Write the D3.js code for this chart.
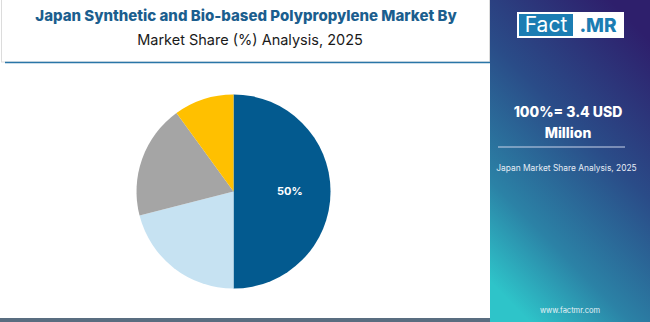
<!DOCTYPE html>
<html>
<head>
<meta charset="utf-8">
<script src="https://cdn.jsdelivr.net/npm/d3@7"></script>
<style>
  body { margin: 0; background: #fff; }
  svg { display: block; font-family: Inter, "Open Sans", sans-serif; }
</style>
</head>
<body>
<div id="chart"></div>
<script>
// data
const segments = ["Segment A", "Segment B", "Segment C", "Segment D"];
const shares = [50, 21, 19, 10];
const colors = ["#035a8f", "#c6e2f2", "#a5a5a5", "#ffc000"];
const titleLines = ["Japan Synthetic and Bio-based Polypropylene Market By", "Market Share (%) Analysis, 2025"];
const totalLabel = ["100%= 3.4 USD", "Million"];
const sideCaption = "Japan Market Share Analysis, 2025";

const W = 650, H = 322;
const svg = d3.select("#chart").append("svg")
  .attr("width", W).attr("height", H);

const defs = svg.append("defs");
const grad = defs.append("linearGradient")
  .attr("id", "side").attr("x1", "75%").attr("y1", "0%").attr("x2", "25%").attr("y2", "100%");
grad.append("stop").attr("offset", "0%").attr("stop-color", "#2e1f6c");
grad.append("stop").attr("offset", "40%").attr("stop-color", "#2a4c88");
grad.append("stop").attr("offset", "75%").attr("stop-color", "#2b82a6");
grad.append("stop").attr("offset", "100%").attr("stop-color", "#2ec4c9");

// title box
svg.append("rect").attr("x", 1.5).attr("y", -1).attr("width", 488).attr("height", 63)
  .attr("fill", "#fff").attr("stroke", "#dcdcdc");
svg.append("line").attr("x1", 5).attr("x2", 490).attr("y1", 62.5).attr("y2", 62.5)
  .attr("stroke", "#2a76a8").attr("stroke-width", 1.5);

svg.append("text").attr("x", 246).attr("y", 21).attr("text-anchor", "middle")
  .attr("font-size", 15).attr("font-weight", 800).attr("fill", "#1b5e8e")
  .text(titleLines[0]);
svg.append("text").attr("x", 250).attr("y", 45).attr("text-anchor", "middle")
  .attr("font-size", 14.5).attr("fill", "#1a1a1a")
  .text(titleLines[1]);

// bottom bar
svg.append("rect").attr("x", 0).attr("y", 318).attr("width", 490).attr("height", 4)
  .attr("fill", "#596d80");

// pie
const cx = 233.5, cy = 191.5, r = 97;
const pie = d3.pie().sort(null).value(d => d);
const arc = d3.arc().innerRadius(0).outerRadius(r);
const g = svg.append("g").attr("transform", `translate(${cx},${cy})`);
const arcs = pie(shares);
g.selectAll("path").data(arcs).enter().append("path")
  .attr("d", arc).attr("fill", (d, i) => colors[i]);

const labelArc = d3.arc().innerRadius(r * 0.58).outerRadius(r * 0.58);
g.selectAll("text.lbl").data(arcs.filter(d => d.data >= 30)).enter().append("text")
  .attr("class", "lbl")
  .attr("transform", d => `translate(${labelArc.centroid(d)})`)
  .attr("text-anchor", "middle").attr("dy", "0.35em")
  .attr("font-size", 11).attr("font-weight", 700).attr("fill", "#fff")
  .text(d => d.data + "%");

// side panel
const sx = 490;
svg.append("rect").attr("x", sx).attr("y", 0).attr("width", W - sx).attr("height", H)
  .attr("fill", "url(#side)");

// logo
svg.append("rect").attr("x", 517).attr("y", 12).attr("width", 107).attr("height", 26).attr("fill", "#fff");
svg.append("rect").attr("x", 519).attr("y", 14).attr("width", 54).attr("height", 22).attr("fill", "#1b7db3");
svg.append("text").attr("x", 546).attr("y", 32).attr("text-anchor", "middle")
  .attr("font-size", 21).attr("fill", "#fff").text("Fact");
svg.append("text").attr("x", 598).attr("y", 32).attr("text-anchor", "middle")
  .attr("font-size", 19).attr("font-weight", 800).attr("fill", "#1b7db3").text(".MR");

svg.selectAll("text.total").data(totalLabel).enter().append("text")
  .attr("class", "total")
  .attr("x", 568).attr("y", (d, i) => 117 + i * 21).attr("text-anchor", "middle")
  .attr("font-size", 14).attr("font-weight", 800).attr("fill", "#fff")
  .text(d => d);
svg.append("line").attr("x1", 498).attr("x2", 625).attr("y1", 147).attr("y2", 147)
  .attr("stroke", "#c9d3ea").attr("stroke-width", 1.2);
svg.append("text").attr("x", 566.5).attr("y", 171).attr("text-anchor", "middle")
  .attr("font-size", 8.4).attr("fill", "#e6ecf5").text(sideCaption);
svg.append("text").attr("x", 570).attr("y", 313).attr("text-anchor", "middle")
  .attr("font-size", 7.5).attr("fill", "#e8f2f7").text("www.factmr.com");
</script>
</body>
</html>
